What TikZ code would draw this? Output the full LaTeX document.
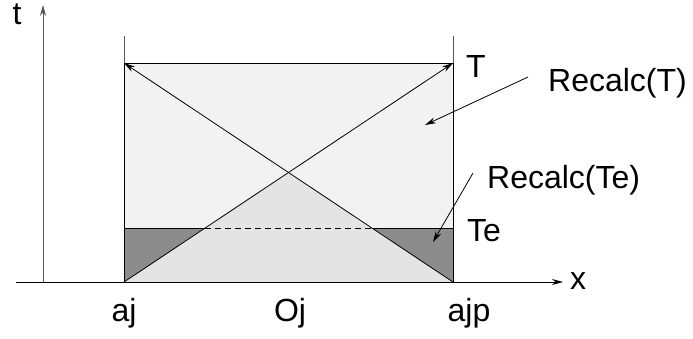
\documentclass[tikz,border=0pt]{standalone}
\usepackage{fontspec}
\setmainfont{Liberation Sans}
\usetikzlibrary{arrows.meta}
\definecolor{topgray}{HTML}{F2F2F2}
\definecolor{midgray}{HTML}{E4E4E4}
\definecolor{darkgray}{HTML}{8C8C8C}
\definecolor{axisgray}{HTML}{555555}
\begin{document}
\begin{tikzpicture}[x=1pt,y=-1pt,
  lbl/.style={font=\fontsize{32}{37}\selectfont,inner sep=0pt},
  ln/.style={line width=0.9pt,black},
  arr/.style={line width=0.8pt,-{Stealth[length=11pt,width=6pt]}},
  ext/.style={line width=0.9pt,axisgray}]
\useasboundingbox (0,0) rectangle (693,338);
% corner coordinates
\coordinate (BL) at (124,282);
\coordinate (BR) at (453,282);
\coordinate (TL) at (124,63);
\coordinate (TR) at (453,63);
\coordinate (EL) at (124,228);
\coordinate (ER) at (453,228);
\coordinate (DL) at (205,228);
\coordinate (DR) at (372,228);
\coordinate (AP) at (288.5,172.6);
% fills
\fill[topgray] (TL) rectangle (BR);
\fill[darkgray] (EL) rectangle (BR);
\fill[midgray] (BL) -- (AP) -- (BR) -- cycle;
% rectangle and Te line
\draw[ln] (TL) rectangle (BR);
\draw[ln] (EL) -- (DL);
\draw[ln] (DR) -- (ER);
\draw[ln,dashed,dash pattern=on 6pt off 4pt,line width=0.7pt] (DL) -- (DR);
% vertical extensions
\coordinate (VL) at (124,36);
\coordinate (VR) at (453,36);
\draw[ext] (TL) -- (VL);
\draw[ext] (TR) -- (VR);
% diagonals
\draw[arr] (BL) -- (TR);
\draw[arr] (BR) -- (TL);
% axes
\coordinate (O) at (43,282);
\coordinate (TT) at (43,5);
\coordinate (X0) at (16,282);
\coordinate (XX) at (563,282);
\draw[ext,-{Stealth[length=11pt,width=6pt]}] (O) -- (TT);
\draw[ln,-{Stealth[length=11pt,width=6pt]}] (X0) -- (XX);
% labels
\node[lbl,anchor=base] (t) at (17,24) {t};
\node[lbl,anchor=base west] (xl) at (570,289) {x};
\node[lbl,anchor=base west] (T) at (466,77) {T};
\node[lbl,anchor=base west] (Te) at (467,241) {Te};
\node[lbl,anchor=base west] (rT) at (548,91) {Recalc(T)};
\node[lbl,anchor=base west] (rTe) at (487,188) {Recalc(Te)};
\node[lbl,anchor=base] (aj) at (124,321) {aj};
\node[lbl,anchor=base] (Oj) at (290,321) {Oj};
\node[lbl,anchor=base] (ajp) at (469,321) {ajp};
% pointer arrows
\coordinate (rTs) at (528,77);
\coordinate (rTe_) at (425,125);
\coordinate (rTes) at (473,173);
\coordinate (rTee) at (433,242);
\draw[arr] (rTs) -- (rTe_);
\draw[arr] (rTes) -- (rTee);
\end{tikzpicture}
\end{document}
